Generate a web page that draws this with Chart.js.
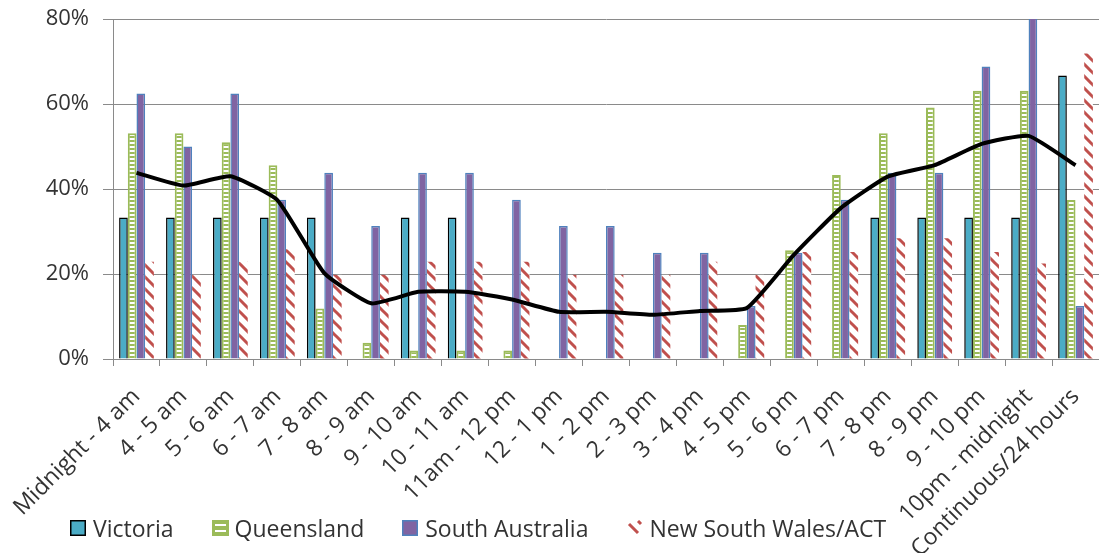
<!DOCTYPE html>
<html>
<head>
<meta charset="utf-8">
<script src="https://cdn.jsdelivr.net/npm/chart.js@4.4.1/dist/chart.umd.min.js"></script>
<style>
  html, body { margin: 0; padding: 0; background: #ffffff; }
  #wrap { position: relative; width: 1099px; height: 553px; overflow: hidden; }
  #legend {
    position: absolute; left: 70px; top: 512px;
    display: flex; align-items: center;
    font-family: 'Open Sans', sans-serif; font-size: 23px; color: #333;
    white-space: nowrap;
  }
  #legend .item { display: flex; align-items: center; margin-right: 38px; }
  #legend .item canvas { margin-right: 6px; }
</style>
</head>
<body>
<div id="wrap">
  <canvas id="chart" width="1099" height="553"></canvas>
  <div id="legend"></div>
</div>
<script>
// Time-of-day categories
const categories = [
  'Midnight - 4 am', '4 - 5 am', '5 - 6 am', '6 - 7 am', '7 - 8 am', '8 - 9 am',
  '9 - 10 am', '10 - 11 am', '11am - 12 pm', '12 - 1 pm', '1 - 2 pm', '2 - 3 pm',
  '3 - 4 pm', '4 - 5 pm', '5 - 6 pm', '6 - 7 pm', '7 - 8 pm', '8 - 9 pm',
  '9 - 10 pm', '10pm - midnight', 'Continuous/24 hours'
];

// Percentages per state
const victoria = [33.3, 33.3, 33.3, 33.3, 33.3, 0, 33.3, 33.3, 0, 0, 0, 0, 0, 0, 0, 0, 33.3, 33.3, 33.3, 33.3, 66.7];
const queensland = [53.1, 53.1, 51.0, 45.6, 11.9, 3.8, 2.0, 2.0, 2.0, 0, 0, 0, 0, 8.0, 25.6, 43.3, 53.1, 59.2, 63.1, 63.1, 37.4];
const southAustralia = [62.5, 50.0, 62.5, 37.5, 43.8, 31.3, 43.8, 43.8, 37.5, 31.3, 31.3, 25.0, 25.0, 12.5, 25.0, 37.5, 43.8, 43.8, 68.8, 81.3, 12.5];
const newSouthWales = [22.9, 19.8, 22.9, 25.8, 19.8, 19.8, 22.9, 22.9, 22.9, 19.8, 19.8, 19.8, 22.9, 19.8, 25.2, 25.2, 28.4, 28.4, 25.2, 22.5, 71.9];

// Overall line
const overall = [43.8, 40.8, 43.0, 37.4, 20.2, 13.1, 15.8, 15.8, 14.0, 11.1, 11.1, 10.4, 11.3, 12.0, 24.5, 35.5, 42.9, 45.6, 50.6, 52.5, 45.6];

// Value axis ticks
const yTicks = [0, 20, 40, 60, 80];

const TEAL = '#4BACC6';
const GREEN = '#9BBB59';
const PURPLE = '#8064A2';
const BLUE = '#4F81BD';
const RED = '#C0504D';
const GRID = '#8a8a8a';
const FONT = "'Open Sans', sans-serif";

function makeTile(w, h, draw) {
  const c = document.createElement('canvas');
  c.width = w; c.height = h;
  draw(c.getContext('2d'), w, h);
  return c;
}

const canvas = document.getElementById('chart');
const ctx = canvas.getContext('2d');

// Horizontal ladder fill
const ladderTile = makeTile(4, 4, (g) => {
  g.fillStyle = '#ffffff'; g.fillRect(0, 0, 4, 4);
  g.fillStyle = GREEN; g.fillRect(0, 0, 4, 2);
});
// Wide downward diagonal fill
const diagTile = makeTile(12, 12, (g) => {
  g.fillStyle = '#ffffff'; g.fillRect(0, 0, 12, 12);
  g.strokeStyle = RED; g.lineWidth = 3; g.lineCap = 'butt';
  g.beginPath();
  for (const k of [-12, 0, 12]) { g.moveTo(k - 2, -2); g.lineTo(k + 14, 14); }
  g.stroke();
});
const ladderPattern = ctx.createPattern(ladderTile, 'repeat');
const diagPattern = ctx.createPattern(diagTile, 'repeat');

const chart = new Chart(ctx, {
  type: 'bar',
  data: {
    labels: categories,
    datasets: [
      {
        type: 'line', label: 'Overall', data: overall,
        borderColor: '#000000', borderWidth: 4, pointRadius: 0,
        tension: 0.15, fill: false, order: 0
      },
      { label: 'Victoria', data: victoria, backgroundColor: TEAL, borderColor: '#000000', borderWidth: 1.5, order: 1 },
      { label: 'Queensland', data: queensland, backgroundColor: ladderPattern, borderColor: GREEN, borderWidth: 2, order: 1 },
      { label: 'South Australia', data: southAustralia, backgroundColor: PURPLE, borderColor: BLUE, borderWidth: 1.5, order: 1 },
      { label: 'New South Wales/ACT', data: newSouthWales, backgroundColor: diagPattern, borderWidth: 0, order: 1 }
    ]
  },
  options: {
    responsive: false,
    animation: false,
    devicePixelRatio: 1,
    layout: { padding: { top: 19, left: 0, right: 0, bottom: 0 } },
    datasets: { bar: { categoryPercentage: 0.74, barPercentage: 1.0 } },
    plugins: { legend: { display: false }, tooltip: { enabled: false } },
    scales: {
      x: {
        offset: true,
        grid: { display: true, offset: true, drawOnChartArea: false, drawTicks: true, tickLength: 7, color: GRID },
        border: { display: true, color: GRID, width: 1 },
        ticks: {
          autoSkip: false, minRotation: 45, maxRotation: 45, padding: 17,
          color: '#333', font: { family: FONT, size: 23 }
        },
        afterFit(scale) {
          scale.height = 194;
          scale.paddingLeft = 0; scale.paddingRight = 0;
        }
      },
      y: {
        min: 0, max: 80,
        afterBuildTicks(scale) { scale.ticks = yTicks.map(v => ({ value: v })); },
        grid: { color: GRID, tickLength: 10, lineWidth: 1 },
        border: { display: true, color: GRID, width: 1 },
        ticks: {
          padding: 14, color: '#333', font: { family: FONT, size: 22 },
          callback: (v) => v + '%'
        },
        afterFit(scale) {
          scale.width = 113;
          scale.paddingTop = 0; scale.paddingBottom = 0;
        }
      }
    }
  }
});

// Legend built from the bar datasets
function swatch(ds) {
  const c = document.createElement('canvas');
  c.width = 17; c.height = 16;
  const g = c.getContext('2d');
  if (ds.label === 'Queensland') {
    g.fillStyle = GREEN; g.fillRect(0, 0, 17, 16);
    g.fillStyle = '#ffffff'; g.fillRect(3, 4, 11, 2); g.fillRect(3, 10, 11, 2);
  } else if (ds.label === 'New South Wales/ACT') {
    g.strokeStyle = RED; g.lineWidth = 3;
    g.beginPath(); g.moveTo(3, 4); g.lineTo(12, 13); g.stroke();
    g.beginPath(); g.moveTo(12, 1); g.lineTo(15, 4); g.stroke();
  } else {
    g.fillStyle = ds.borderColor; g.fillRect(0, 0, 16, 16);
    g.fillStyle = ds.backgroundColor; g.fillRect(1.5, 1.5, 13, 13);
  }
  return c;
}
const legendEl = document.getElementById('legend');
chart.data.datasets.filter(ds => ds.type !== 'line').forEach(ds => {
  const item = document.createElement('div');
  item.className = 'item';
  item.appendChild(swatch(ds));
  const span = document.createElement('span');
  span.textContent = ds.label;
  item.appendChild(span);
  legendEl.appendChild(item);
});
</script>
</body>
</html>
